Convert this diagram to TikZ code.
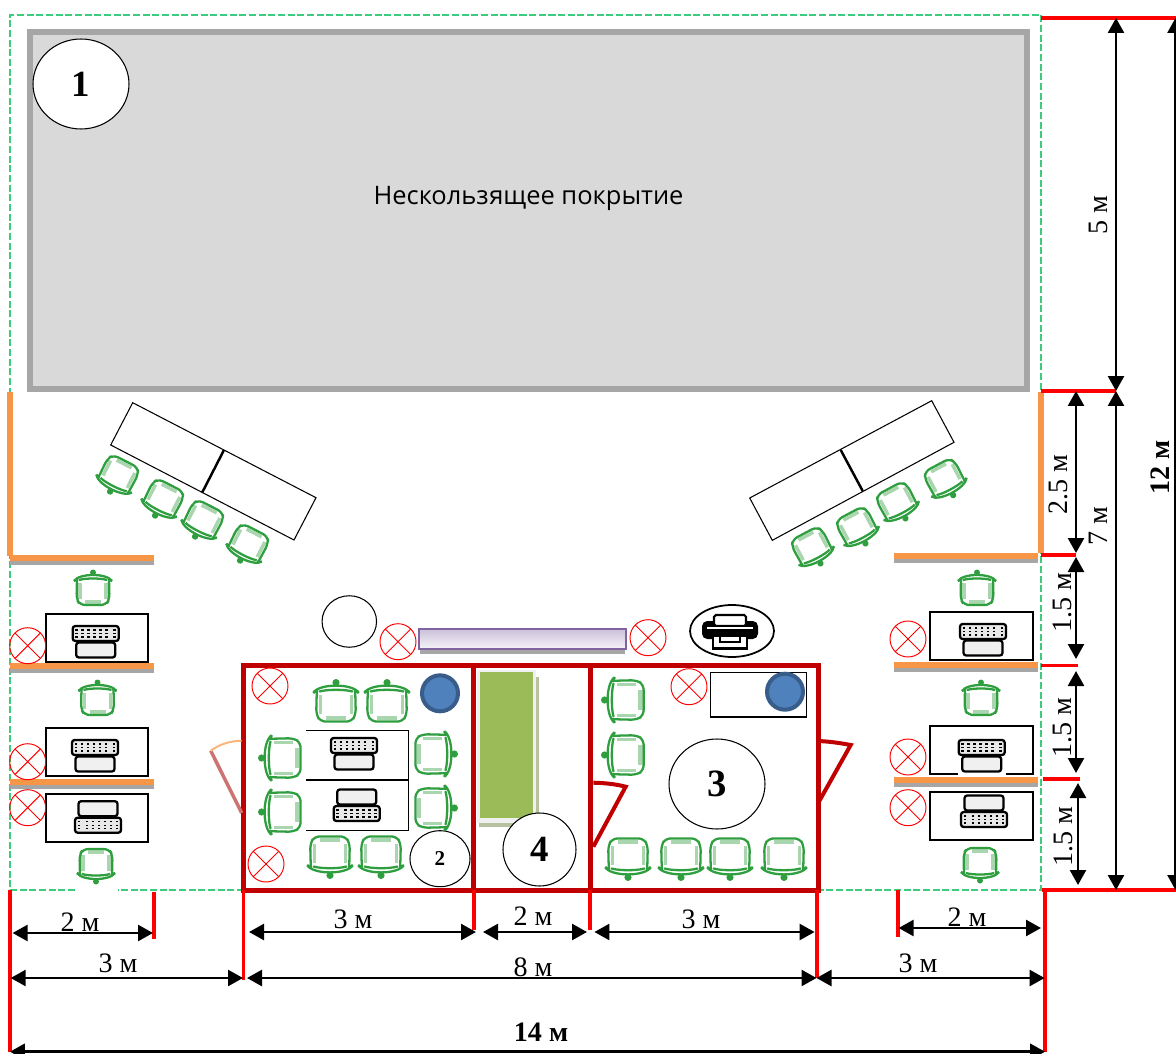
\documentclass[tikz,border=0pt]{standalone}
\usepackage{fontspec}
\setmainfont{Liberation Serif}
\newfontfamily\coverfont{Open Sans}
\usetikzlibrary{arrows.meta, shapes.geometric}

\definecolor{roomred}{HTML}{C00000}
\definecolor{doorred}{HTML}{C0504D}
\definecolor{wallorange}{HTML}{F79646}
\definecolor{wallgray}{HTML}{A6A6A6}
\definecolor{floorgray}{HTML}{D9D9D9}
\definecolor{chairgreen}{HTML}{2E9E3F}
\definecolor{armgreen}{HTML}{A9D6AE}
\definecolor{edgegreen}{HTML}{3CCB7F}
\definecolor{shelfgreen}{HTML}{9BBB59}
\definecolor{lampblue}{HTML}{4F81BD}
\definecolor{lampedge}{HTML}{385D8A}
\definecolor{barpurple}{HTML}{8064A2}

\tikzset{
  plan/.style={x=.02cm, y=-.02cm},
  redbar/.style={red, line width=.07cm},
  roombox/.style={draw=roomred, line width=.1cm},
  dimline/.style={<->, >={Triangle[length=.3cm, width=.32cm]}, line width=.05cm},
  dimtext/.style={font=\fontsize{16}{16}\selectfont, inner sep=0pt},
  marker/.style={ellipse, draw, fill=white, inner sep=0pt, line width=.6pt, font=\bfseries\fontsize{#1}{#1}\selectfont},
  lamp/.style={circle, draw=red, line width=.55pt, minimum size=.72cm, inner sep=0pt,
    path picture={
      \draw [red, line width=.55pt] (path picture bounding box.north west) to (path picture bounding box.south east);
      \draw [red, line width=.55pt] (path picture bounding box.north east) to (path picture bounding box.south west);
    }},
  bluedot/.style={circle, fill=lampblue, draw=lampedge, line width=.08cm, minimum size=.72cm, inner sep=0pt},
  desk/.style={draw, line width=1pt},
  chair/.pic={
    \draw [armgreen, line width=2pt] (-13, -4) to (-13, 12);
    \draw [armgreen, line width=2pt] (13, -4) to (13, 12);
    \draw [armgreen, line width=2pt] (-8, 15) to (8, 15);
    \draw [chairgreen, line width=1.3pt, rounded corners=3pt] (-16, -8) to (-16.5, 12) to (-13, 18) to (13, 18) to (16.5, 12) to (16, -8);
    \draw [chairgreen, line width=1.3pt] (-19, -6) .. controls (-14, -14) and (14, -14) .. (19, -6);
    \draw [chairgreen, line width=1.3pt] (-19, -6) to (-15, -8);
    \draw [chairgreen, line width=1.3pt] (19, -6) to (15, -8);
    \draw [chairgreen, line width=1.3pt] (-14, -7) .. controls (-8, -9) and (8, -9) .. (14, -7);
    \fill [chairgreen] (0, -14.5) circle (3);
  },
  laptop/.pic={
    \draw [line width=1.3pt, fill=floorgray!60, rounded corners=1.5pt] (-23, -15) rectangle (23, 0);
    \foreach \r in {-11, -7.5, -4}
      \foreach \k in {-19, -13, -7, -1, 5, 11, 19}
        \fill (\k, \r) ++(-1.3, -.7) rectangle ++(2.6, 1.4);
    \draw [line width=1.3pt, fill=floorgray!40, rounded corners=1.5pt] (-19.5, 1.5) rectangle (19.5, 16.5);
  },
  printer/.pic={
    \fill [rounded corners=3pt] (-28, -10) rectangle (28, 8);
    \draw [line width=1.2pt, fill=white, rounded corners=1pt] (-16, -16) rectangle (16, -5);
    \draw [white, line width=.9pt] (-23, -3) to (23, -3);
    \draw [line width=1.4pt, fill=white] (-17, 5) rectangle (17, 17.5);
    \draw [line width=1.2pt] (-10, 5) rectangle (10, 11);
  }
}

\begin{document}
\begin{tikzpicture}[plan]
  \useasboundingbox (0, 0) rectangle (1176, 1054);

  % site outline, open where the lowest chair stands
  \draw [edgegreen, line width=.6pt, dash pattern=on 4pt off 1.5pt] (75, 890) to (10, 890) to (10, 15) to (1041, 15) to (1041, 890) to (118, 890);

  % covered area
  \draw [wallgray, fill=floorgray, line width=.12cm] (30, 32) rectangle (1027, 389);
  \node [font=\coverfont\fontsize{14.5}{14.5}\selectfont, inner sep=0pt] (covertext) at (528.5, 198) {Нескользящее покрытие};
  \node [marker=21, minimum width=1.92cm, minimum height=1.8cm] (mark1) at (81, 84) {1};

  % walls
  \draw [wallorange, line width=.12cm] (10, 392) to (10, 556);
  \draw [wallorange, line width=.12cm] (1041, 392) to (1041, 553);
  \foreach \y in {555, 663, 779}
  {
    \fill [wallgray] (10, \y+6) rectangle (154, \y+10);
    \fill [wallorange] (10, \y) rectangle (154, \y+6);
  }
  \foreach \y in {553, 662, 777}
  {
    \fill [wallgray] (894, \y+6) rectangle (1038, \y+10);
    \fill [wallorange] (894, \y) rectangle (1038, \y+6);
  }

  % slanted tables
  \draw [line width=.6pt] (132.7, 402.7) -- (316, 497.7) -- (294, 540) -- (110.7, 445) -- cycle;
  \draw [line width=1.4pt] (224, 450) to (202.3, 492.3);
  \draw [line width=.6pt] (931.7, 400.7) -- (954, 442.3) -- (772.3, 540.3) -- (749.7, 498) -- cycle;
  \draw [line width=1.4pt] (840.7, 450) to (862.7, 491);

  % side desks
  \foreach \y in {614, 728, 794}
    \draw [desk] (45.7, \y) rectangle (148.3, \y+48);
  \foreach \y in {612, 792}
    \draw [desk] (930, \y) rectangle (1032.7, \y+48);
  \draw [desk] (957.7, 774) to (930, 774) to (930, 726) to (1032.7, 726) to (1032.7, 774) to (1005.7, 774);

  % rooms
  \draw [roombox] (243.7, 665.5) rectangle (473, 890);
  \draw [roombox] (473, 665.5) rectangle (590, 890);
  \draw [roombox] (590, 665.5) rectangle (818, 890);

  % shelf in the middle room
  \fill [black!30!shelfgreen!50!white] (479, 677) rectangle (539, 827);
  \fill [white!94!black] (477, 670) rectangle (536, 823);
  \fill [shelfgreen] (480, 672.3) rectangle (532.7, 818.3);

  % counter
  \fill [wallgray] (420, 648) rectangle (625, 653.5);
  \draw [barpurple, line width=1pt, top color=barpurple!40!white, bottom color=barpurple!8!white] (419.3, 629.3) rectangle (626, 648.7);

  % inner tables
  \draw [line width=.6pt] (306, 730.3) to (408.7, 730.3) to (408.7, 830.7) to (306, 830.7);
  \draw [line width=.6pt] (306, 780) to (408.7, 780);
  \draw [line width=.6pt] (710.7, 672.7) rectangle (806.7, 717);

  % doors
  \draw [doorred!80!white, line width=.07cm] (241.7, 813) to (210.7, 750.7);
  \draw [wallorange!70!white, line width=.04cm] (210.7, 750.7) .. controls (220, 744) and (230, 741) .. (241.7, 740.7);
  \draw [roomred, line width=.08cm] (593.3, 846.7) to (625.7, 786.7) .. controls (615, 784) and (605, 783) .. (593.3, 782.7);
  \draw [roomred, line width=.08cm] (818, 803.3) to (850.7, 745) .. controls (840, 743) and (830, 741.5) .. (818, 741);

  % lamps
  \foreach \n/\x/\y in {a/27.7/645.7, b/27.7/761.7, c/27.7/807.7, d/398/641.7, e/270/686, f/266/864, g/648/637.7, h/689/686.7, i/908/639, j/908/757, k/908/807.7}
    \node [lamp] (lamp\n) at (\x, \y) {};
  \node [bluedot] (blue2) at (440, 693.3) {};
  \node [bluedot] (blue3) at (785, 691.7) {};

  % round marks
  \node [marker=12, minimum width=1.2cm, minimum height=1.12cm] (mark2) at (440, 858.7) {2};
  \node [marker=22, minimum width=1.92cm, minimum height=1.8cm] (mark3) at (717, 784) {3};
  \node [marker=21, minimum width=1.46cm, minimum height=1.46cm] (mark4) at (539.5, 849.5) {4};
  \node [ellipse, draw, line width=.6pt, inner sep=0pt, minimum width=1.09cm, minimum height=1.03cm] (plainmark) at (349.3, 621.5) {};
  \node [ellipse, draw, line width=1pt, inner sep=0pt, minimum width=1.68cm, minimum height=1.04cm] (printmark) at (732, 631) {};
  \pic at (730, 631) {printer};

  % chairs
  \foreach \x/\y/\r/\s in {93/587/0/1, 97.5/697/0/1, 96/867/180/1, 977/587/0/1, 981/697/0/1, 980/866/180/1,
    336/700/0/1.2, 387/700/0/1.2, 279/758/90/1.2, 279/812/90/1.2, 437/754/-90/1.2, 437/808/-90/1.2, 330/858/180/1.2, 381/858/180/1.2,
    622/700/90/1.2, 622/755/90/1.2, 628/860/180/1.2, 681/860/180/1.2, 730/860/180/1.2, 784/860/180/1.2,
    117/478/153/1.05, 162/502/153/1.05, 202/523/153/1.05, 247/547/153/1.05,
    813.3/550/208/1.05, 858.3/530/208/1.05, 898.3/505/208/1.05, 946/481.7/208/1.05}
    \pic [rotate=\r, scale=\s] at (\x, \y) {chair};

  % computers
  \foreach \x/\y/\r in {95.7/641/0, 95/755/0, 98/817.7/180, 354/753/0, 356.7/806/180, 983/639/0, 981.7/755/0, 984/812/180}
    \pic [rotate=\r] at (\x, \y) {laptop};

  % red ticks on the outside
  \draw [redbar] (10, 890) to (10, 1052);
  \draw [redbar] (154, 892) to (154, 939);
  \draw [redbar] (243.4, 890) to (243.4, 980);
  \draw [redbar] (474, 890) to (474, 930);
  \draw [redbar] (590, 890) to (590, 930);
  \draw [redbar] (817, 890) to (817, 978);
  \draw [redbar] (898, 890) to (898, 937);
  \draw [redbar] (1045, 890) to (1045, 1052);
  \draw [redbar] (1042, 890) to (1176, 890);
  \draw [redbar] (1041, 18) to (1176, 18);
  \draw [redbar] (1041, 391) to (1116, 391);
  \draw [redbar] (1041, 555) to (1076, 555);
  \draw [redbar] (1041, 665.7) to (1078, 665.7);
  \draw [redbar] (1043, 779) to (1080, 779);

  % sizes along the bottom
  \foreach \n/\xa/\xb/\y/\t/\lx/\ly in {w/12.6/153/933/2 м/80/922, v/10.7/243/978/3 м/118/963, u/249/476/932/3 м/353/919, s/483/587/932/2 м/533/916, r/594.4/814.6/932/3 м/701/919, q/247/816.5/978/8 м/533/967, p/816.5/1044.6/978/3 м/918/963, o/898.6/1041/928/2 м/967/917}
  {
    \coordinate (\n a) at (\xa, \y);
    \coordinate (\n b) at (\xb, \y);
    \draw [dimline] (\n a) to (\n b);
    \node [dimtext] (\n t) at (\lx, \ly) {\t};
  }
  \coordinate (alla) at (10, 1051.7);
  \coordinate (allb) at (1045, 1051.7);
  \draw [dimline] (alla) to (allb);
  \node [dimtext, font=\bfseries\fontsize{16}{16}\selectfont] (allt) at (541, 1032) {14 м};

  % sizes down the right side
  \foreach \n/\x/\ya/\yb/\t/\lx/\ly in {f/1116/18/391/5 м/1098/215, g/1116/391/890/7 м/1098/526, h/1076/391/553/2.5 м/1058/485, i/1076/557/659/1.5 м/1062/603, j/1076/671/773/1.5 м/1062/728, k/1078/783/885/1.5 м/1063/837}
  {
    \coordinate (\n a) at (\x, \ya);
    \coordinate (\n b) at (\x, \yb);
    \draw [dimline] (\n a) to (\n b);
    \node [dimtext, rotate=90] (\n t) at (\lx, \ly) {\t};
  }
  \coordinate (higha) at (1175.5, 18);
  \coordinate (highb) at (1175.5, 890);
  \draw [dimline] (higha) to (highb);
  \node [dimtext, rotate=90, font=\bfseries\fontsize{16}{16}\selectfont] (hight) at (1160, 467) {12 м};
\end{tikzpicture}
\end{document}
